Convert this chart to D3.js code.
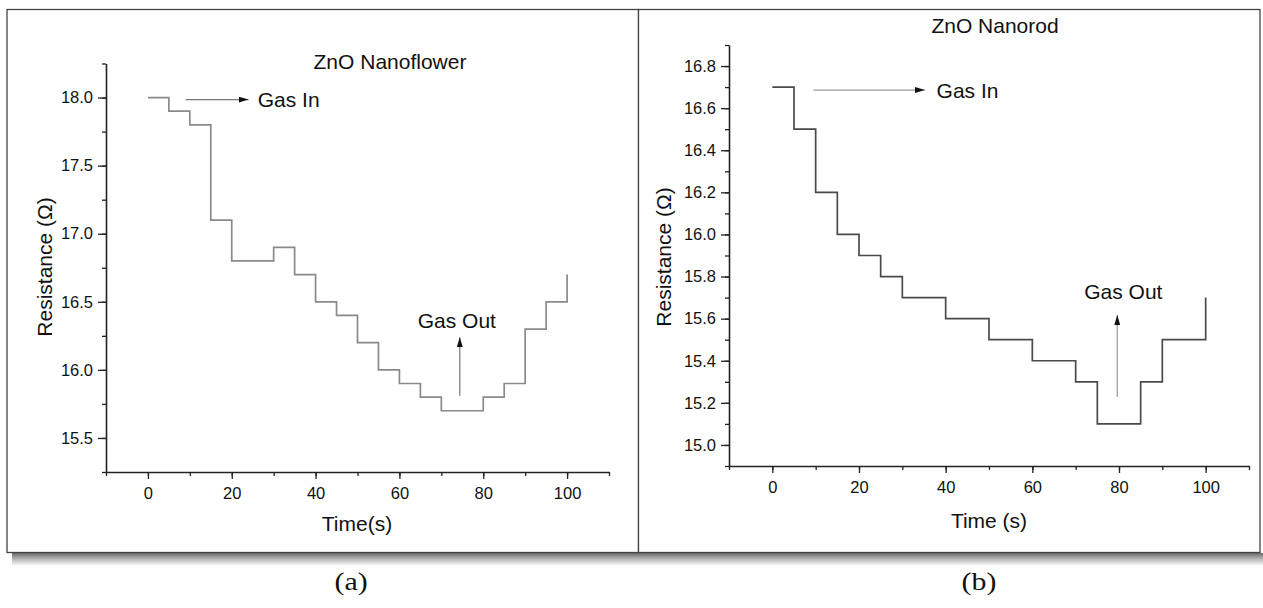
<!DOCTYPE html>
<html>
<head>
<meta charset="utf-8">
<script src="https://cdnjs.cloudflare.com/ajax/libs/d3/7.8.5/d3.min.js"></script>
<style>
  body { margin: 0; background: #fff; }
  svg text { font-family: "Liberation Sans", Arial, sans-serif; fill: #111; }
</style>
</head>
<body>
<script>
// time axis (s), step every 5 s
var times = [0, 5, 10, 15, 20, 25, 30, 35, 40, 45, 50, 55, 60, 65, 70, 75, 80, 85, 90, 95, 100];

// (a) ZnO Nanoflower resistance (ohm)
var flowerValues = [18.0, 17.9, 17.8, 17.1, 16.8, 16.8, 16.9, 16.7, 16.5, 16.4, 16.2,
                    16.0, 15.9, 15.8, 15.7, 15.7, 15.8, 15.9, 16.3, 16.5, 16.7];

// (b) ZnO Nanorod resistance (ohm)
var rodValues = [16.7, 16.5, 16.2, 16.0, 15.9, 15.8, 15.7, 15.7, 15.6, 15.6, 15.5,
                 15.5, 15.4, 15.4, 15.3, 15.1, 15.1, 15.3, 15.5, 15.5, 15.7];

var xTicks = [0, 20, 40, 60, 80, 100];
var flowerTicks = [15.5, 16.0, 16.5, 17.0, 17.5, 18.0];
var rodTicks = [15.0, 15.2, 15.4, 15.6, 15.8, 16.0, 16.2, 16.4, 16.6, 16.8];

var width = 1263,
    height = 608;

var svg = d3.select("body").append("svg")
    .attr("width", width)
    .attr("height", height);

// shadow under the frame
var defs = svg.append("defs");
var grad = defs.append("linearGradient")
    .attr("id", "shadow")
    .attr("x1", 0).attr("y1", 0).attr("x2", 0).attr("y2", 1);
grad.append("stop").attr("offset", "0%").attr("stop-color", "#6a6a6a");
grad.append("stop").attr("offset", "45%").attr("stop-color", "#b5b5b5");
grad.append("stop").attr("offset", "100%").attr("stop-color", "#fff");

svg.append("rect")
    .attr("x", 12).attr("y", 553)
    .attr("width", 1251).attr("height", 13)
    .style("fill", "url(#shadow)");

// panel frames
svg.append("rect")
    .attr("x", 7).attr("y", 9.5)
    .attr("width", 631.5).attr("height", 543)
    .style("fill", "#fff").style("stroke", "#444").style("stroke-width", 1.3);
svg.append("rect")
    .attr("x", 638.5).attr("y", 9.5)
    .attr("width", 621.5).attr("height", 543)
    .style("fill", "#fff").style("stroke", "#444").style("stroke-width", 1.3);

// arrowhead
defs.append("marker")
    .attr("id", "head")
    .attr("viewBox", "0 0 10 6")
    .attr("refX", 10).attr("refY", 3)
    .attr("markerWidth", 10).attr("markerHeight", 6)
    .attr("markerUnits", "userSpaceOnUse")
    .attr("orient", "auto")
  .append("path")
    .attr("d", "M0,0L10,3L0,6Z")
    .style("fill", "#111");

function drawPanel(opt) {
    var x = d3.scaleLinear().domain([-10, 110]).range(opt.xRange);
    var y = d3.scaleLinear().domain(opt.yDomain).range(opt.yRange);
    var g = svg.append("g");

    // minor ticks
    var xMinor = d3.range(-10, 111, 10);
    var yMinor = d3.range(0, Math.round((opt.yDomain[1] - opt.yDomain[0]) / opt.minorStep) + 1)
        .map(function(i) { return opt.yDomain[0] + i * opt.minorStep; });

    g.append("g")
        .attr("transform", "translate(0," + opt.yRange[0] + ")")
        .call(d3.axisBottom(x).tickValues(xMinor).tickSize(4).tickFormat(""))
        .call(function(a) { a.select(".domain").remove(); });
    g.append("g")
        .attr("transform", "translate(" + opt.xRange[0] + ",0)")
        .call(d3.axisLeft(y).tickValues(yMinor).tickSize(4).tickFormat(""))
        .call(function(a) { a.select(".domain").remove(); });

    // major axes
    var xAxis = g.append("g")
        .attr("transform", "translate(0," + opt.yRange[0] + ")")
        .call(d3.axisBottom(x).tickValues(xTicks).tickSize(7).tickPadding(8).tickSizeOuter(0));
    var yAxis = g.append("g")
        .attr("transform", "translate(" + opt.xRange[0] + ",0)")
        .call(d3.axisLeft(y).tickValues(opt.yTicks).tickSize(8).tickPadding(5)
              .tickSizeOuter(0).tickFormat(d3.format(".1f")));

    [xAxis, yAxis].forEach(function(a) {
        a.selectAll("text")
            .style("font-family", "'Liberation Sans', Arial, sans-serif")
            .style("font-size", "16.5px")
            .style("fill", "#111");
        a.select(".domain").style("stroke", "#222").style("stroke-width", 1.6);
    });
    g.selectAll(".tick line").style("stroke", "#222").style("stroke-width", 1.3);

    // step line
    var pts = times.map(function(t, i) { return [t, opt.values[i]]; });
    var line = d3.line()
        .x(function(d) { return x(d[0]); })
        .y(function(d) { return y(d[1]); })
        .curve(d3.curveStepAfter);
    g.append("path")
        .datum(pts)
        .attr("d", line)
        .style("fill", "none")
        .style("stroke", opt.lineColor)
        .style("stroke-width", 1.7);

    // annotations
    g.append("line")
        .attr("x1", x(opt.gasIn.t0)).attr("x2", x(opt.gasIn.t1))
        .attr("y1", y(opt.gasIn.r)).attr("y2", y(opt.gasIn.r))
        .style("stroke", opt.arrowColor).style("stroke-width", 1.2)
        .attr("marker-end", "url(#head)");
    g.append("text")
        .attr("x", x(opt.gasIn.tText)).attr("y", y(opt.gasIn.r))
        .attr("dy", "0.36em")
        .style("font-size", "21px")
        .text("Gas In");

    g.append("line")
        .attr("x1", x(opt.gasOut.t)).attr("x2", x(opt.gasOut.t))
        .attr("y1", y(opt.gasOut.r0)).attr("y2", y(opt.gasOut.r1))
        .style("stroke", opt.arrowColor).style("stroke-width", 1.2)
        .attr("marker-end", "url(#head)");
    g.append("text")
        .attr("x", x(opt.gasOut.tText)).attr("y", y(opt.gasOut.rText))
        .attr("dy", "0.36em")
        .attr("text-anchor", "middle")
        .style("font-size", "21px")
        .text("Gas Out");

    // titles
    g.append("text")
        .attr("x", opt.title[1]).attr("y", opt.title[2])
        .attr("dy", "0.36em")
        .attr("text-anchor", "middle")
        .style("font-size", "21px")
        .text(opt.title[0]);
    g.append("text")
        .attr("transform", "translate(" + opt.yLabel[0] + "," + opt.yLabel[1] + ") rotate(-90)")
        .attr("dy", "0.36em")
        .attr("text-anchor", "middle")
        .style("font-size", "21px")
        .text("Resistance (\u03a9)");
    g.append("text")
        .attr("x", opt.xLabel[1]).attr("y", opt.xLabel[2])
        .attr("dy", "0.36em")
        .attr("text-anchor", "middle")
        .style("font-size", "21px")
        .text(opt.xLabel[0]);
}

drawPanel({
    values: flowerValues,
    xRange: [106, 609],
    yDomain: [15.25, 18.25],
    yRange: [472, 63.5],
    yTicks: flowerTicks,
    minorStep: 0.25,
    lineColor: "#8a8a8a",
    arrowColor: "#777",
    gasIn: {t0: 9, t1: 24, r: 17.985, tText: 26.2},
    gasOut: {t: 74.4, r0: 15.81, r1: 16.24, tText: 73.7, rText: 16.36},
    title: ["ZnO Nanoflower", 390, 61],
    yLabel: [44, 267],
    xLabel: ["Time(s)", 357, 523]
});

drawPanel({
    values: rodValues,
    xRange: [729, 1249],
    yDomain: [14.9, 16.9],
    yRange: [466, 45],
    yTicks: rodTicks,
    minorStep: 0.1,
    lineColor: "#4a4a4a",
    arrowColor: "#999",
    gasIn: {t0: 9.5, t1: 35.2, r: 16.686, tText: 37.9},
    gasOut: {t: 79.6, r0: 15.228, r1: 15.617, tText: 81.0, rText: 15.728},
    title: ["ZnO Nanorod", 995, 25],
    yLabel: [663, 257],
    xLabel: ["Time (s)", 989, 520]
});

// sub-figure labels
[["(a)", 351], ["(b)", 979]].forEach(function(d) {
    svg.append("text")
        .attr("transform", "translate(" + d[1] + ",590) scale(1.15,1)")
        .attr("text-anchor", "middle")
        .style("font-family", "'Liberation Serif', 'Times New Roman', serif")
        .style("font-size", "26px")
        .style("fill", "#111")
        .text(d[0]);
});
</script>
</body>
</html>
